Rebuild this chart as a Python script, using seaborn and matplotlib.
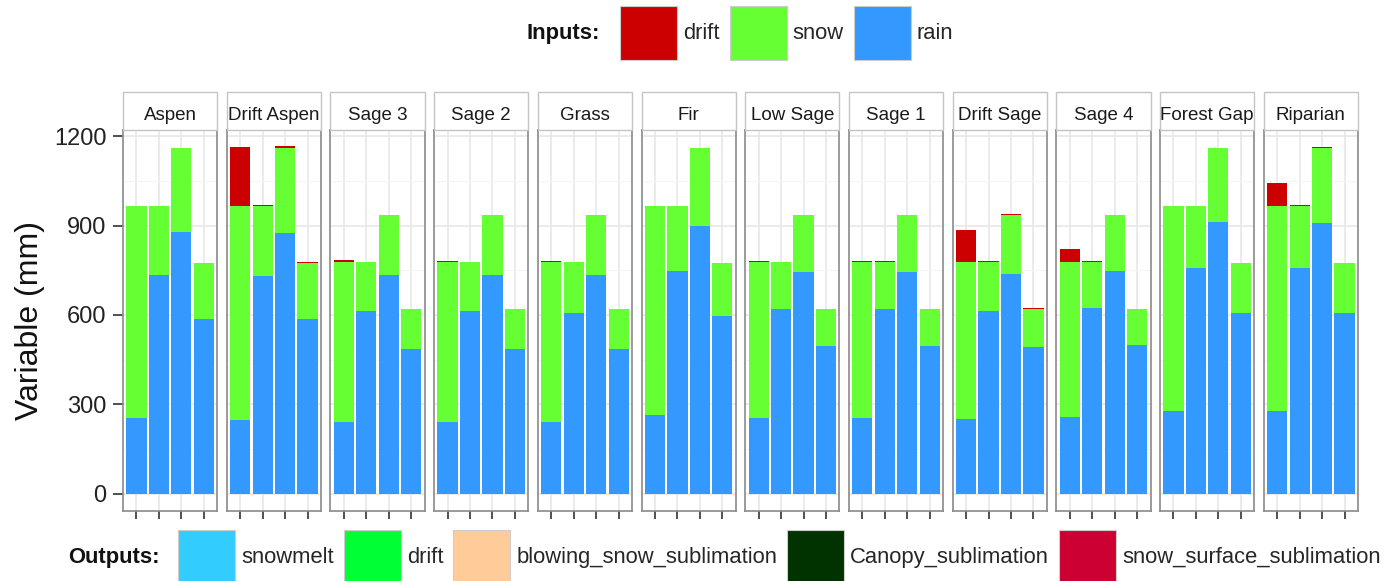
import numpy as np
import pandas as pd
import matplotlib
matplotlib.use("Agg")
import matplotlib.pyplot as plt
import seaborn as sns
from matplotlib.patches import Patch, Rectangle
from matplotlib.ticker import MultipleLocator

# ---------------- data ----------------
sites = ["Aspen", "Drift Aspen", "Sage 3", "Sage 2", "Grass", "Fir",
         "Low Sage", "Sage 1", "Drift Sage", "Sage 4", "Forest Gap", "Riparian"]
bar_ids = ["1", "2", "3", "4"]

rain = [
    [255, 735, 880, 588],
    [247, 730, 875, 585],
    [242, 612, 735, 487],
    [242, 612, 733, 487],
    [242, 608, 733, 487],
    [265, 748, 898, 598],
    [255, 620, 744, 495],
    [254, 620, 744, 495],
    [250, 615, 739, 493],
    [259, 623, 749, 498],
    [278, 758, 912, 607],
    [278, 758, 908, 605],
]
snow = [
    [710, 230, 280, 185],
    [718, 235, 285, 188],
    [536, 166, 200, 133],
    [536, 166, 202, 133],
    [536, 170, 202, 133],
    [700, 217, 262, 175],
    [523, 158, 191, 125],
    [524, 158, 191, 125],
    [528, 163, 196, 127],
    [519, 155, 186, 122],
    [687, 207, 248, 166],
    [687, 207, 252, 168],
]
drift = [
    [0, 0, 0, 0],
    [198, 5, 6, 4],
    [7, 0, 0, 0],
    [2, 0, 0, 0],
    [2, 0, 0, 0],
    [0, 0, 0, 0],
    [2, 0, 0, 0],
    [2, 2, 0, 0],
    [107, 3, 4, 3],
    [43, 2, 0, 0],
    [0, 0, 0, 0],
    [78, 3, 3, 0],
]

input_names = ["drift", "snow", "rain"]
input_colors = ["#CC0000", "#66FF33", "#3399FF"]
output_names = ["snowmelt", "drift", "blowing_snow_sublimation",
                "Canopy_sublimation", "snow_surface_sublimation"]
output_colors = ["#33CCFF", "#00FF33", "#FFCC99", "#003300", "#CC0033"]

y_ticks = [0, 300, 600, 900, 1200]

# ---------------- style ----------------
sns.set_theme(style="white")
plt.rcParams["font.family"] = ["Liberation Sans", "DejaVu Sans"]

W, H = 1392, 581
fig, axes = plt.subplots(1, len(sites), figsize=(W / 100, H / 100), dpi=100, sharey=True)
fig.subplots_adjust(left=123 / W, right=1358 / W, bottom=1 - 511 / H, top=1 - 130 / H,
                    wspace=0.1)

panel_h = 381.0
col = dict(zip(input_names, input_colors))

for i, (ax, site) in enumerate(zip(axes, sites)):
    df = pd.DataFrame({"bar": bar_ids, "rain": rain[i], "snow": snow[i], "drift": drift[i]})
    df["snow_top"] = df["rain"] + df["snow"]
    df["drift_top"] = df["snow_top"] + df["drift"]
    for ycol, c in [("drift_top", col["drift"]), ("snow_top", col["snow"]), ("rain", col["rain"])]:
        sns.barplot(data=df, x="bar", y=ycol, order=bar_ids, color=c, saturation=1,
                    width=0.9, errorbar=None, ax=ax, linewidth=0)
    ax.set_xlabel("")
    ax.set_ylabel("")
    ax.set_xlim(-0.6, 3.6)
    ax.set_ylim(-58, 1221)
    ax.set_yticks(y_ticks)
    ax.yaxis.set_minor_locator(MultipleLocator(150))
    ax.set_axisbelow(True)
    ax.grid(True, which="major", color="#e6e6e6", lw=1.1)
    ax.grid(True, which="minor", axis="y", color="#f5f5f5", lw=0.8)
    ax.set_xticklabels([])
    ax.tick_params(axis="x", which="major", length=6, width=1.2, color="#333333",
                   bottom=True, direction="out")
    ax.tick_params(axis="y", which="minor", length=0)
    if i == 0:
        ax.tick_params(axis="y", which="major", length=7, width=1.2, color="#333333",
                       left=True, labelsize=17, labelcolor="#222222", pad=5)
    else:
        ax.tick_params(axis="y", which="major", left=False, labelleft=False)
    for sp in ax.spines.values():
        sp.set_visible(True)
        sp.set_color("#8a8a8a")
        sp.set_linewidth(1.2)
    # facet strip
    ax.add_patch(Rectangle((0, 1), 1, 38 / panel_h, transform=ax.transAxes, clip_on=False,
                           facecolor="white", edgecolor="#c4c4c4", lw=1.0, zorder=5))
    ax.text(0.5, 1 + 9.5 / panel_h, site, transform=ax.transAxes, ha="center", va="baseline",
            fontsize=13.5, color="#1a1a1a", zorder=6)

fig.text(30 / W, 1 - 321 / H, "Variable (mm)", rotation=90, ha="center", va="center",
         fontsize=23, color="#111111")

# ---------------- legends ----------------
fs = 15.8
leg_kw = dict(frameon=False, fontsize=fs, handlelength=57 / (fs * 100 / 72),
              handleheight=3.45, handletextpad=0.28, columnspacing=0.45,
              borderpad=0, borderaxespad=0, loc="center left")
h_in = [Patch(facecolor=c, edgecolor="#cccccc", lw=0.8) for c in input_colors]
fig.legend(h_in, input_names, ncol=3, bbox_to_anchor=(620 / W, 1 - 33 / H), **leg_kw)
fig.text(600 / W, 1 - 33 / H, "Inputs:", ha="right", va="center", fontsize=fs,
         fontweight="bold", color="#111111")

h_out = [Patch(facecolor=c, edgecolor="#cccccc", lw=0.8) for c in output_colors]
fig.legend(h_out, output_names, ncol=5, bbox_to_anchor=(178 / W, 1 - 557 / H), **leg_kw)
fig.text(160 / W, 1 - 557 / H, "Outputs:", ha="right", va="center", fontsize=fs,
         fontweight="bold", color="#111111")

fig.savefig("out.png", dpi=100)
